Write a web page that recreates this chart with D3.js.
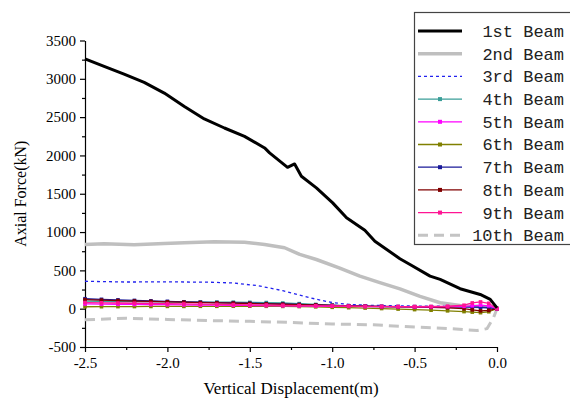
<!DOCTYPE html>
<html>
<head>
<meta charset="utf-8">
<script src="https://cdn.jsdelivr.net/npm/d3@7"></script>
<style>
  html, body { margin: 0; padding: 0; background: #fff; }
  svg { display: block; }
</style>
</head>
<body>
<svg id="chart" width="570" height="398"></svg>
<script>
'use strict'

/****** DATA ******/

const beamNames = ['1st Beam', '2nd Beam', '3rd Beam', '4th Beam', '5th Beam',
                   '6th Beam', '7th Beam', '8th Beam', '9th Beam', '10th Beam']

// 1st beam
const disp1 = [-2.5, -2.384, -2.263, -2.141, -2.019, -1.897, -1.776, -1.654, -1.532, -1.41, -1.38,
               -1.271, -1.228, -1.187, -1.096, -0.997, -0.913, -0.802, -0.741, -0.589, -0.528,
               -0.406, -0.345, -0.224, -0.102, -0.041, 0]
const force1 = [3261, 3161, 3062, 2953, 2814, 2640, 2476, 2358, 2249, 2098, 2033,
                1845, 1889, 1728, 1577, 1381, 1186, 1024, 881, 652, 577,
                425, 382, 261, 186, 121, 10]

// 2nd beam
const disp2 = [-2.5, -2.384, -2.202, -2.019, -1.897, -1.715, -1.532, -1.41, -1.289, -1.197, -1.096,
               -0.958, -0.832, -0.711, -0.589, -0.467, -0.345, -0.224, -0.102, 0]
const force2 = [838, 847, 834, 851, 860, 875, 866, 838, 795, 708, 642,
                534, 425, 339, 258, 160, 78, 43, 26, 17]

// 3rd beam
const disp3 = [-2.5, -2.25, -2.0, -1.75, -1.6, -1.45, -1.3, -1.2, -1.1, -1.0, -0.9, -0.75, -0.5, -0.25, 0]
const force3 = [358, 348, 350, 346, 335, 300, 235, 180, 125, 80, 55, 43, 35, 30, 15]

// 4th..9th beams share the same displacement steps
const dispSmall = [-2.5, -2.4, -2.3, -2.2, -2.1, -2.0, -1.9, -1.8, -1.7, -1.6, -1.5, -1.4, -1.3, -1.2,
                   -1.1, -1.0, -0.9, -0.8, -0.7, -0.6, -0.5, -0.4, -0.3, -0.2, -0.15, -0.1, -0.05, 0]
const force4 = [100, 97, 94, 92, 90, 88, 87, 86, 86, 85, 83, 80, 74, 66, 56, 46, 38, 32, 28, 26, 25, 24, 24, 23, 23, 22, 18, 0]
const force5 = [62, 60, 58, 56, 54, 52, 50, 48, 46, 44, 42, 40, 38, 36, 34, 32, 30, 28, 27, 26, 25, 25, 26, 30, 38, 45, 38, 0]
const force6 = [25, 26, 27, 28, 29, 30, 30, 31, 31, 32, 32, 31, 30, 28, 24, 18, 13, 8, 2, -5, -12, -20, -28, -38, -45, -52, -40, 0]
const force7 = [130, 122, 115, 108, 102, 96, 90, 85, 80, 76, 72, 67, 62, 56, 50, 44, 38, 33, 30, 28, 27, 26, 25, 24, 22, 18, 12, 0]
const force8 = [118, 112, 106, 100, 95, 90, 85, 80, 76, 72, 68, 63, 58, 53, 48, 42, 37, 32, 28, 25, 22, 18, 12, 0, -15, -28, -22, 0]
const force9 = [80, 77, 74, 71, 68, 65, 62, 59, 56, 53, 50, 47, 44, 41, 38, 35, 32, 30, 29, 28, 28, 29, 32, 45, 75, 88, 70, 0]

// 10th beam
const disp10 = [-2.5, -2.25, -2.0, -1.75, -1.5, -1.25, -1.0, -0.75, -0.5, -0.25, -0.12, -0.06, -0.02, 0]
const force10 = [-145, -125, -140, -155, -165, -180, -200, -210, -240, -265, -285, -260, -110, 0]

const xTicks = [-2.5, -2.0, -1.5, -1.0, -0.5, 0.0]
const yTicks = [-500, 0, 500, 1000, 1500, 2000, 2500, 3000, 3500]


/****** STYLES ******/

const SERIF = '"Liberation Serif", "Times New Roman", serif'
const zip = (xs, ys) => xs.map((x, i) => ({x: x, y: ys[i]}))

const series = [
  {name: beamNames[0], data: zip(disp1, force1),  color: '#000000', width: 3,   dash: null},
  {name: beamNames[1], data: zip(disp2, force2),  color: '#bfbfbf', width: 3.5, dash: null},
  {name: beamNames[2], data: zip(disp3, force3),  color: '#2222ee', width: 1.3, dash: '3,3'},
  {name: beamNames[3], data: zip(dispSmall, force4), color: '#3a9e98', width: 1.3, dash: null, marker: true},
  {name: beamNames[4], data: zip(dispSmall, force5), color: '#ff00ff', width: 1.3, dash: null, marker: true},
  {name: beamNames[5], data: zip(dispSmall, force6), color: '#808000', width: 1.3, dash: null, marker: true},
  {name: beamNames[6], data: zip(dispSmall, force7), color: '#1a1a99', width: 1.3, dash: null, marker: true},
  {name: beamNames[7], data: zip(dispSmall, force8), color: '#800000', width: 1.3, dash: null, marker: true},
  {name: beamNames[8], data: zip(dispSmall, force9), color: '#ff1493', width: 1.3, dash: null, marker: true},
  {name: beamNames[9], data: zip(disp10, force10), color: '#c4c4c4', width: 3,   dash: '10,6'}
]

const margin = {left: 85, right: 73, top: 40.5, bottom: 51}
const W = 570, H = 398

const x = d3.scaleLinear().domain([-2.5, 0]).range([margin.left, W - margin.right])
const y = d3.scaleLinear().domain([-500, 3500]).range([H - margin.bottom, margin.top])

const svg = d3.select('#chart')

const line = d3.line()
  .x(d => x(d.x))
  .y(d => y(d.y))


/****** AXES ******/

const xAxis = svg.append('g')
  .attr('transform', `translate(0,${y(-500)})`)
  .call(d3.axisBottom(x).tickValues(xTicks).tickFormat(d => d.toFixed(1)).tickSize(5).tickSizeOuter(0))
xAxis.selectAll('text').attr('dy', '0.95em').attr('y', 7)

svg.append('g')
  .attr('transform', `translate(0,${y(-500)})`)
  .call(d3.axisBottom(x).tickValues(d3.range(-2.25, 0, 0.5)).tickFormat('').tickSize(3).tickSizeOuter(0))
  .select('.domain').remove()

const yAxis = svg.append('g')
  .attr('transform', `translate(${x(-2.5)},0)`)
  .call(d3.axisLeft(y).tickValues(yTicks).tickFormat(d => String(d)).tickSize(5).tickSizeOuter(0))
yAxis.selectAll('text').attr('x', -9)

svg.append('g')
  .attr('transform', `translate(${x(-2.5)},0)`)
  .call(d3.axisLeft(y).tickValues(d3.range(-250, 3500, 500)).tickFormat('').tickSize(3).tickSizeOuter(0))
  .select('.domain').remove()

for (let ax of [xAxis, yAxis]) {
  ax.attr('font-family', SERIF).attr('font-size', 15)
}
svg.selectAll('.domain, .tick line').attr('stroke', '#000').attr('stroke-width', 1.2)
svg.selectAll('.tick text')
  .attr('font-family', SERIF)
  .style('font-family', SERIF)
  .style('font-size', '15px')
  .style('fill', '#000')

svg.append('text')
  .attr('transform', `translate(26,${(y(-500) + y(3500)) / 2}) rotate(-90)`)
  .attr('text-anchor', 'middle')
  .style('font-family', SERIF)
  .style('font-size', '16px')
  .text('Axial Force(kN)')

svg.append('text')
  .attr('x', (x(-2.5) + x(0)) / 2)
  .attr('y', 394)
  .attr('text-anchor', 'middle')
  .style('font-family', SERIF)
  .style('font-size', '17px')
  .text('Vertical Displacement(m)')


/****** LINES ******/

const plot = svg.append('g')

// draw the small beams first, big ones on top
const order = [9, 2, 1, 3, 5, 6, 7, 4, 8, 0]
for (let i of order) {
  const s = series[i]
  plot.append('path')
    .datum(s.data)
    .attr('fill', 'none')
    .attr('stroke', s.color)
    .attr('stroke-width', s.width)
    .attr('stroke-dasharray', s.dash)
    .attr('stroke-linejoin', 'round')
    .attr('d', line)
  if (s.marker) {
    plot.selectAll(null)
      .data(s.data)
      .join('rect')
        .attr('x', d => x(d.x) - 1.8)
        .attr('y', d => y(d.y) - 1.8)
        .attr('width', 3.6)
        .attr('height', 3.6)
        .attr('fill', s.color)
  }
}


/****** LEGEND ******/

const legend = svg.append('g')

legend.append('rect')
  .attr('x', 414.5).attr('y', 12.5)
  .attr('width', 160).attr('height', 232)
  .attr('fill', '#fff')
  .attr('stroke', '#444')
  .attr('stroke-width', 1.2)

const rowY = i => 31 + i * 22.7

series.forEach((s, i) => {
  const g = legend.append('g').attr('transform', `translate(0,${rowY(i)})`)
  g.append('line')
    .attr('x1', 418).attr('x2', 462)
    .attr('stroke', s.color)
    .attr('stroke-width', s.width)
    .attr('stroke-dasharray', s.dash)
  if (s.marker) {
    g.append('rect')
      .attr('x', 438).attr('y', -2).attr('width', 4).attr('height', 4)
      .attr('fill', s.color)
  }
  g.append('text')
    .attr('x', 564)
    .attr('dy', '0.35em')
    .attr('text-anchor', 'end')
    .style('font-family', '"Liberation Mono", monospace')
    .style('font-size', '17px')
    .style('fill', '#222')
    .text(s.name)
})
</script>
</body>
</html>
